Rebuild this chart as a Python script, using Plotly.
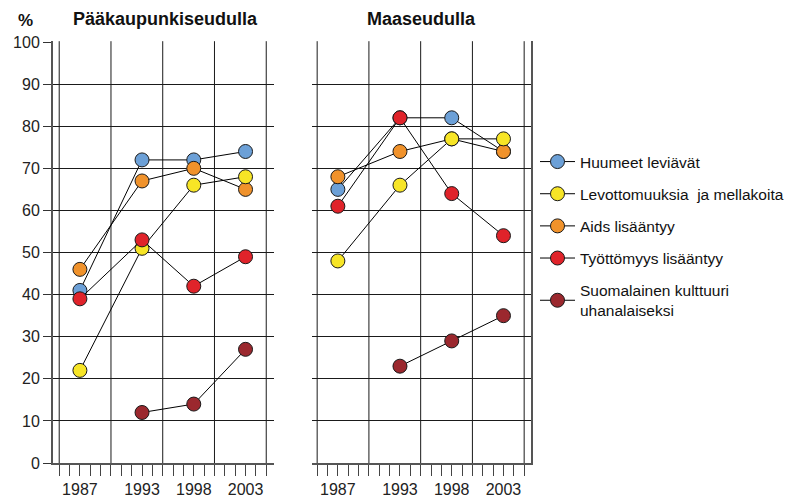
import plotly.graph_objects as go

# survey years and axis labels
years = [1987, 1993, 1998, 2003]
year_labels = ['1987', '1993', '1998', '2003']
grid_years = [1985, 1990, 1995, 2000, 2005]
pct_ticks = [0, 10, 20, 30, 40, 50, 60, 70, 80, 90, 100]

series_names = [
    'Huumeet leviävät',
    'Levottomuuksia\u00a0 ja mellakoita',
    'Aids lisääntyy',
    'Työttömyys lisääntyy',
    'Suomalainen kulttuuri<br>uhanalaiseksi',
]
series_colors = ['#6CA0D7', '#F7E526', '#F0922B', '#E0232A', '#9B282E']

# Pääkaupunkiseudulla
pk_huumeet = [41, 72, 72, 74]
pk_levottomuus = [22, 51, 66, 68]
pk_aids = [46, 67, 70, 65]
pk_tyottomyys = [39, 53, 42, 49]
pk_kulttuuri = [None, 12, 14, 27]

# Maaseudulla
ms_huumeet = [65, 82, 82, 74]
ms_levottomuus = [48, 66, 77, 77]
ms_aids = [68, 74, 77, 74]
ms_tyottomyys = [61, 82, 64, 54]
ms_kulttuuri = [None, 23, 29, 35]

W, H = 797, 499
OFF = 8  # the page body adds an 8px margin
FONT = 'Liberation Sans, Arial, sans-serif'


def fx(p):
    return (p - OFF) / W


def fy(p):
    return 1 - (p - OFF) / H


panels = [
    ('x', 'y', [pk_huumeet, pk_levottomuus, pk_aids, pk_tyottomyys, pk_kulttuuri], True),
    ('x2', 'y2', [ms_huumeet, ms_levottomuus, ms_aids, ms_tyottomyys, ms_kulttuuri], False),
]
# drawing order (which dot sits on top), legend keeps its own order
draw_order = [0, 2, 1, 3, 4]

fig = go.Figure()
shapes = []
for xa, ya, data, legend in panels:
    for i in draw_order:
        fig.add_trace(go.Scatter(
            x=years,
            y=data[i],
            xaxis=xa,
            yaxis=ya,
            mode='lines+markers',
            name=series_names[i],
            legendgroup=str(i),
            legendrank=i + 1,
            showlegend=legend,
            line=dict(color='black', width=1),
            marker=dict(size=14, color=series_colors[i], line=dict(color='#1a1a1a', width=1)),
            hoverinfo='x+y+name',
        ))
    # vertical grid every five years
    for g in grid_years:
        shapes.append(dict(type='line', xref=xa, yref=ya + ' domain', x0=g, x1=g, y0=0, y1=1,
                           line=dict(color='#1a1a1a', width=1), layer='below'))

xcommon = dict(
    tickvals=years,
    ticktext=year_labels,
    ticks='outside',
    ticklen=11,
    tickcolor='#444',
    tickwidth=1,
    tickfont=dict(size=16, color='#222'),
    showgrid=False,
    zeroline=False,
    showline=True,
    linecolor='#555',
    linewidth=2,
    minor=dict(tick0=1985, dtick=1, ticks='outside', ticklen=11, tickcolor='#444', tickwidth=1, showgrid=False),
)
ycommon = dict(
    domain=[fy(463), fy(41.2)],
    range=[0, 100.2],
    tickvals=pct_ticks,
    showgrid=True,
    gridcolor='#1a1a1a',
    gridwidth=1,
    zeroline=False,
    showline=True,
    linecolor='#555',
    linewidth=2,
)

fig.update_layout(
    width=W,
    height=H,
    autosize=False,
    template='none',
    margin=dict(l=0, r=0, t=0, b=0),
    paper_bgcolor='white',
    plot_bgcolor='white',
    font=dict(family=FONT, size=16, color='#111'),
    xaxis=dict(domain=[fx(53), fx(274)], range=[1984.4, 2005.75], anchor='y', **xcommon),
    xaxis2=dict(domain=[fx(312), fx(531)], range=[1984.5, 2005.66], anchor='y2', **xcommon),
    yaxis=dict(anchor='x', ticks='outside', ticklen=8, tickcolor='#333',
               tickfont=dict(size=16, color='#222'), **ycommon),
    yaxis2=dict(anchor='x2', side='right', ticks='', showticklabels=False, **ycommon),
    shapes=shapes,
    legend=dict(
        x=fx(535), xanchor='left',
        y=fy(145), yanchor='top',
        font=dict(size=15.5, color='#111'),
        tracegroupgap=9,
        bgcolor='rgba(0,0,0,0)',
        itemwidth=35,
    ),
    annotations=[
        dict(text='<b>%</b>', x=fx(25), y=fy(20), xref='paper', yref='paper',
             xanchor='center', yanchor='middle', showarrow=False, font=dict(size=17)),
        dict(text='<b>Pääkaupunkiseudulla</b>', x=fx(165), y=fy(19), xref='paper', yref='paper',
             xanchor='center', yanchor='middle', showarrow=False, font=dict(size=18)),
        dict(text='<b>Maaseudulla</b>', x=fx(421), y=fy(19), xref='paper', yref='paper',
             xanchor='center', yanchor='middle', showarrow=False, font=dict(size=18)),
    ],
)

fig.write_html("out.html")
